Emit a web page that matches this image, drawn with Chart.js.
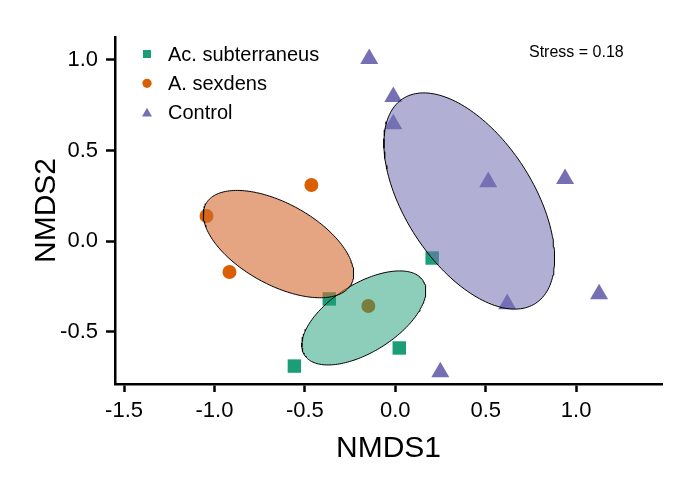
<!DOCTYPE html>
<html>
<head>
<meta charset="utf-8">
<script src="https://cdn.jsdelivr.net/npm/chart.js@4/dist/chart.umd.min.js"></script>
<style>
  html, body { margin: 0; padding: 0; background: #ffffff; }
  #wrap { width: 700px; height: 500px; }
  canvas { display: block; background: #ffffff; }
</style>
</head>
<body>
<div id="wrap"><canvas id="c" width="700" height="500"></canvas></div>
<script>
// ---------- data ----------
const xTicks = [-1.5, -1.0, -0.5, 0.0, 0.5, 1.0];
const yTicks = [-0.5, 0.0, 0.5, 1.0];

const groups = ['Ac. subterraneus', 'A. sexdens', 'Control'];

const subX = [-0.365, 0.204, 0.022, -0.558];
const subY = [-0.320, -0.094, -0.591, -0.691];

const sexX = [-0.464, -1.044, -0.917, -0.149];
const sexY = [0.309, 0.138, -0.171, -0.359];

const ctrlX = [-0.144, -0.011, -0.011, 0.514, 0.939, 0.619, 1.127, 0.249];
const ctrlY = [1.006, 0.796, 0.646, 0.326, 0.343, -0.348, -0.293, -0.724];

// ellipse parameters per group (centre, semi-axes, rotation in degrees)
const ellCx = [-0.174, -0.646, 0.409];
const ellCy = [-0.425, -0.017, 0.221];
const ellA = [0.387, 0.459, 0.674];
const ellB = [0.188, 0.224, 0.354];
const ellAngle = [32, -29, -57];

const stressLabel = 'Stress = 0.18';

// ---------- styles ----------
const FONT = "'Liberation Sans', Arial, Helvetica, sans-serif";
const colors = ['#1B9E77', '#D95F02', '#7570B3'];
const fills = ['rgba(27,158,119,0.5)', 'rgba(212,105,48,0.6)', 'rgba(117,112,179,0.56)'];
const shapes = ['rect', 'circle', 'triangle'];
const radii = [9.5, 7, 10.4];

function zip(xs, ys) { return xs.map((x, i) => ({x: x, y: ys[i]})); }

function ellipsePts(k) {
  const pts = [];
  const n = 180;
  const t = ellAngle[k] * Math.PI / 180;
  for (let i = 0; i <= n; i++) {
    const u = 2 * Math.PI * i / n;
    const ex = ellA[k] * Math.cos(u), ey = ellB[k] * Math.sin(u);
    pts.push({x: ellCx[k] + ex * Math.cos(t) - ey * Math.sin(t),
              y: ellCy[k] + ex * Math.sin(t) + ey * Math.cos(t)});
  }
  return pts;
}

const pointSets = [zip(subX, subY), zip(sexX, sexY), zip(ctrlX, ctrlY)];

const datasets = [];
pointSets.forEach((d, k) => {
  datasets.push({
    label: groups[k], data: d, order: 2,
    pointStyle: shapes[k], pointRadius: radii[k], pointHoverRadius: radii[k],
    backgroundColor: colors[k], borderColor: colors[k], borderWidth: 0,
    showLine: false
  });
});
[1, 0, 2].forEach(k => {
  datasets.push({
    label: 'ellipse ' + groups[k], data: ellipsePts(k), order: 1,
    showLine: true, fill: 'shape', pointRadius: 0, pointHoverRadius: 0,
    backgroundColor: fills[k], borderColor: '#000000', borderWidth: 1,
    tension: 0
  });
});

// ---------- plugins ----------
const bgPlugin = {
  id: 'bg',
  beforeDraw(chart) {
    const c = chart.ctx; c.save(); c.fillStyle = '#fff';
    c.fillRect(0, 0, chart.width, chart.height); c.restore();
  }
};

function drawMarker(c, shape, x, y, r, color) {
  c.fillStyle = color;
  c.beginPath();
  if (shape === 'rect') {
    const s = r / Math.SQRT2;
    c.rect(x - s, y - s, 2 * s, 2 * s);
  } else if (shape === 'circle') {
    c.arc(x, y, r, 0, Math.PI * 2);
  } else {
    c.moveTo(x, y - r);
    c.lineTo(x + r * Math.sin(2 * Math.PI / 3), y + r / 2);
    c.lineTo(x - r * Math.sin(2 * Math.PI / 3), y + r / 2);
    c.closePath();
  }
  c.fill();
}

const legendPlugin = {
  id: 'insideLegend',
  afterDraw(chart) {
    const c = chart.ctx;
    const left = chart.chartArea.left;
    const top = chart.chartArea.top;
    const mr = [5.7, 4.6, 5.8];
    c.save();
    c.font = '20px ' + FONT;
    c.textBaseline = 'middle';
    c.textAlign = 'left';
    groups.forEach((g, k) => {
      const y = top + 17 + k * 29.3;
      drawMarker(c, shapes[k], left + 32, y + (k === 2 ? 1 : 0), mr[k], colors[k]);
      c.fillStyle = '#000';
      c.fillText(g, left + 53, y + 1);
    });
    c.font = '16px ' + FONT;
    c.fillText(stressLabel, 529, 53);
    c.restore();
  }
};

// ---------- chart ----------
new Chart(document.getElementById('c'), {
  type: 'scatter',
  data: {datasets: datasets},
  options: {
    responsive: false, animation: false, devicePixelRatio: 1,
    layout: {padding: {top: 37, right: 38, left: 0, bottom: 0}},
    plugins: {legend: {display: false}, tooltip: {enabled: false}},
    elements: {line: {borderJoinStyle: 'round'}},
    scales: {
      x: {
        type: 'linear', min: -1.55, max: 1.475,
        afterBuildTicks: s => { s.ticks = xTicks.map(v => ({value: v})); },
        afterFit: s => { s.height = 116; },
        ticks: {autoSkip: false, maxRotation: 0, padding: 6, color: '#000',
                font: {size: 22, family: FONT},
                callback: v => Number(v).toFixed(1)},
        grid: {drawOnChartArea: false, drawTicks: true, tickLength: 8,
               tickWidth: 2.5, tickColor: '#000'},
        border: {display: true, color: '#000', width: 2.5},
        title: {display: true, text: 'NMDS1', color: '#000',
                font: {size: 30, family: FONT}, padding: {top: 0, bottom: 33}}
      },
      y: {
        type: 'linear', min: -0.79, max: 1.127,
        afterBuildTicks: s => { s.ticks = yTicks.map(v => ({value: v})); },
        afterFit: s => { s.width = 115; },
        ticks: {autoSkip: false, padding: 8, color: '#000',
                font: {size: 22, family: FONT},
                callback: v => Number(v).toFixed(1)},
        grid: {drawOnChartArea: false, drawTicks: true, tickLength: 9,
               tickWidth: 2.5, tickColor: '#000'},
        border: {display: true, color: '#000', width: 2.5},
        title: {display: true, text: 'NMDS2', color: '#000',
                font: {size: 30, family: FONT}, padding: {top: 29, bottom: 0}}
      }
    }
  },
  plugins: [bgPlugin, legendPlugin]
});
</script>
</body>
</html>
